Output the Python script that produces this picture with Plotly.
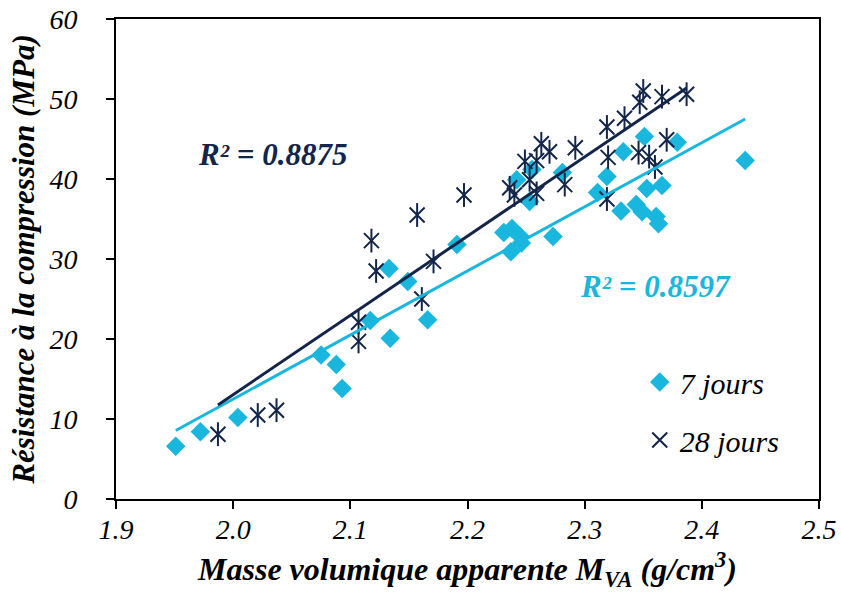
import numpy as np
import plotly.graph_objects as go

# 7 jours (diamonds)
x7 = [1.951, 1.972, 2.004, 2.075, 2.088, 2.093, 2.117, 2.134, 2.133, 2.149,
      2.166, 2.191, 2.231, 2.238, 2.245, 2.246, 2.237, 2.242, 2.255, 2.253,
      2.273, 2.281, 2.311, 2.319, 2.331, 2.333, 2.344, 2.349, 2.351, 2.353,
      2.361, 2.363, 2.366, 2.379, 2.437]
y7 = [6.6, 8.4, 10.2, 18.0, 16.8, 13.8, 22.3, 20.1, 28.8, 27.2,
      22.4, 31.8, 33.3, 33.8, 32.8, 32.0, 30.9, 39.9, 41.2, 37.2,
      32.8, 40.8, 38.3, 40.3, 36.0, 43.4, 36.8, 35.9, 45.3, 38.8,
      35.3, 34.4, 39.2, 44.6, 42.3]

# 28 jours (stars)
x28 = [1.987, 2.021, 2.037, 2.107, 2.107, 2.118, 2.122, 2.157, 2.161, 2.171,
       2.197, 2.236, 2.240, 2.249, 2.259, 2.253, 2.259, 2.263, 2.270, 2.283,
       2.292, 2.319, 2.319, 2.320, 2.334, 2.346, 2.355, 2.360, 2.370, 2.350,
       2.347, 2.366, 2.387]
y28 = [8.1, 10.5, 11.1, 22.1, 19.7, 32.3, 28.5, 35.5, 25.0, 29.7,
       38.0, 38.9, 38.0, 42.2, 42.3, 39.9, 38.2, 44.4, 43.4, 39.3,
       43.9, 46.5, 37.5, 42.7, 47.6, 43.3, 42.8, 41.5, 44.9, 51.0,
       49.6, 50.3, 50.6]

r2_7 = "R² = 0.8597"
r2_28 = "R² = 0.8875"

CYAN = "#19B6DE"
NAVY = "#13264A"
FONT = "Liberation Serif, Times New Roman, DejaVu Serif, serif"


def trend(x, y):
    a, b = np.polyfit(x, y, 1)
    xs = [min(x), max(x)]
    return xs, [a * v + b for v in xs]


fig = go.Figure()

fig.add_trace(go.Scatter(
    x=x7, y=y7, mode="markers", name="7 jours", legendgroup="a",
    marker=dict(symbol="diamond", size=15, color=CYAN, line=dict(width=0)),
))
fig.add_trace(go.Scatter(
    x=x28, y=y28, mode="markers", name="28 jours", legendgroup="b",
    marker=dict(symbol="x-thin-open", size=15, color=NAVY,
                line=dict(width=2, color=NAVY)),
))
fig.add_trace(go.Scatter(
    x=x28, y=y28, mode="markers", legendgroup="b", showlegend=False,
    marker=dict(symbol="line-ns-open", size=17, color=NAVY,
                line=dict(width=2, color=NAVY)),
))

tx, ty = trend(x7, y7)
fig.add_trace(go.Scatter(x=tx, y=ty, mode="lines", showlegend=False,
                         line=dict(color=CYAN, width=3)))
tx, ty = trend(x28, y28)
fig.add_trace(go.Scatter(x=tx, y=ty, mode="lines", showlegend=False,
                         line=dict(color=NAVY, width=3)))

fig.add_annotation(text=r2_28, xref="paper", yref="paper", x=0.222, y=0.717,
                   xanchor="center", yanchor="middle", showarrow=False,
                   font=dict(family=FONT, size=31, color=NAVY,
                             weight="bold", style="italic"))
fig.add_annotation(text=r2_7, xref="paper", yref="paper", x=0.768, y=0.442,
                   xanchor="center", yanchor="middle", showarrow=False,
                   font=dict(family=FONT, size=31, color=CYAN,
                             weight="bold", style="italic"))

axis_common = dict(
    showline=True, linecolor="black", linewidth=2, mirror=True,
    ticks="outside", ticklen=8, tickwidth=2, tickcolor="black",
    showgrid=False, zeroline=False, automargin=False,
    tickfont=dict(family=FONT, size=28, color="black", style="italic"),
)

fig.update_layout(
    width=841, height=605,
    margin=dict(l=116, r=22, t=19, b=106),
    plot_bgcolor="white", paper_bgcolor="white",
    xaxis=dict(range=[1.9, 2.5], dtick=0.1, tickformat=".1f",
               title=dict(text="Masse volumique apparente M<sub>VA</sub> (g/cm<sup>3</sup>)",
                          font=dict(family=FONT, size=32, color="black",
                                    weight="bold", style="italic"),
                          standoff=14),
               ticklabelstandoff=-4,
               **axis_common),
    yaxis=dict(range=[0, 60], dtick=10,
               title=dict(text="Résistance à la compression (MPa)",
                          font=dict(family=FONT, size=31, color="black",
                                    weight="bold", style="italic"),
                          standoff=5),
               ticklabelstandoff=23,
               **axis_common),
    legend=dict(x=0.745, y=0.298, xanchor="left", yanchor="top",
                font=dict(family=FONT, size=30, color="black", style="italic"),
                bgcolor="rgba(0,0,0,0)", tracegroupgap=16,
                traceorder="grouped"),
    showlegend=True,
)

fig.write_html("out.html", config={"displayModeBar": False},
               post_script="document.body.style.margin='0';")
